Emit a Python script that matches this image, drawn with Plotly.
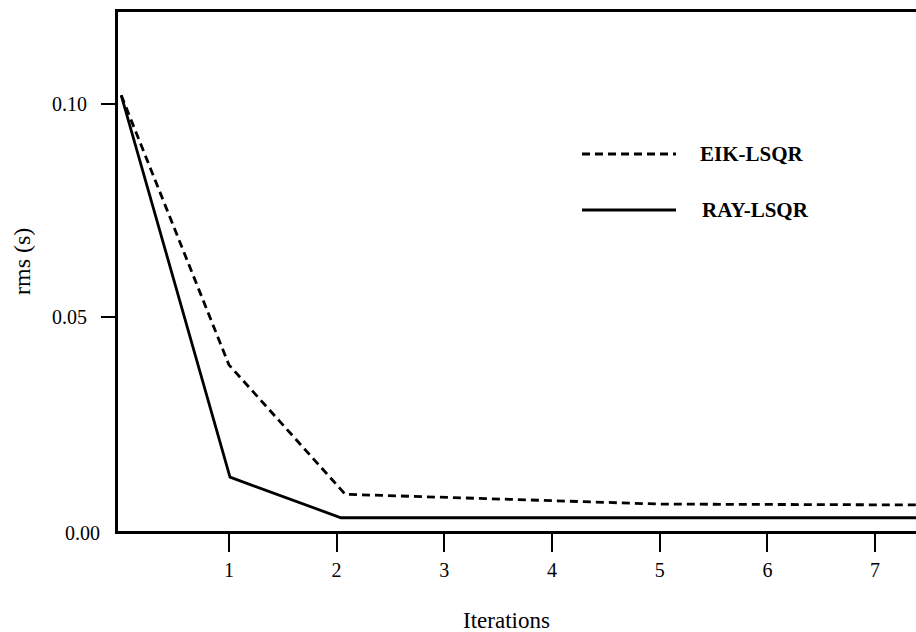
import plotly.graph_objects as go

# Data
iter_eik = [0, 1, 2.08, 3, 4, 5, 6, 7, 7.4]
rms_eik = [0.102, 0.0389, 0.0086, 0.0078, 0.0071, 0.0063, 0.0062, 0.0061, 0.0061]

iter_ray = [0, 1.01, 2.04, 3, 4, 5, 6, 7, 7.4]
rms_ray = [0.102, 0.0126, 0.0031, 0.0031, 0.0031, 0.0031, 0.0031, 0.0031, 0.0031]

x_ticks = [1, 2, 3, 4, 5, 6, 7]
y_ticks = [0.05, 0.10]
y_ticktext = ["0.05", "0.10"]

series_names = ["EIK-LSQR", "RAY-LSQR"]

FONT = "Liberation Serif"

fig = go.Figure()
fig.add_trace(go.Scatter(x=iter_eik, y=rms_eik, mode="lines", name=series_names[0],
                         line=dict(color="black", width=2.8, dash="8px,5px"),
                         showlegend=False))
fig.add_trace(go.Scatter(x=iter_ray, y=rms_ray, mode="lines", name=series_names[1],
                         line=dict(color="black", width=2.8),
                         showlegend=False))

L, R, T, B = 118, 0, 12, 101
W, H = 916, 632
pw, ph = W - L - R, H - T - B

def px_x(px):
    return (px - L) / pw

def px_y(py):
    return (H - B - py) / ph

# Manual legend (line samples + labels)
legend_rows = [(154, "8px,5px", series_names[0], 698), (210, "solid", series_names[1], 700)]
shapes = []
annotations = []
for ypix, dash, label, tx in legend_rows:
    shapes.append(dict(type="line", xref="paper", yref="paper",
                       x0=px_x(582), x1=px_x(676), y0=px_y(ypix), y1=px_y(ypix),
                       line=dict(color="black", width=2.8, dash=dash)))
    annotations.append(dict(xref="paper", yref="paper", x=px_x(tx), y=px_y(ypix),
                            xanchor="left", yanchor="middle", showarrow=False,
                            text="<b>%s</b>" % label,
                            font=dict(family=FONT, size=21, color="black")))

# Axis titles and the 0.00 label
annotations.append(dict(xref="paper", yref="paper", x=px_x(22), y=px_y(262),
                        xanchor="center", yanchor="middle", showarrow=False,
                        text="rms (s)", textangle=-90,
                        font=dict(family=FONT, size=24, color="black")))
annotations.append(dict(xref="paper", yref="paper", x=px_x(506), y=px_y(620),
                        xanchor="center", yanchor="middle", showarrow=False,
                        text="Iterations",
                        font=dict(family=FONT, size=23, color="black")))
annotations.append(dict(xref="paper", yref="y", x=px_x(102), y=0,
                        xanchor="right", yanchor="middle", showarrow=False,
                        yshift=-2, text="0.00",
                        font=dict(family=FONT, size=20, color="black")))

fig.update_layout(
    width=W, height=H,
    margin=dict(l=L, r=R, t=T, b=B, pad=0),
    paper_bgcolor="white", plot_bgcolor="white",
    font=dict(family=FONT, size=20, color="black"),
    shapes=shapes, annotations=annotations,
    showlegend=False,
)
fig.update_xaxes(range=[-0.03, 7.38], tickvals=x_ticks, ticks="outside", ticklen=18,
                 tickwidth=2, tickcolor="black", showline=True, linecolor="black",
                 linewidth=3, mirror=True, showgrid=False, zeroline=False,
                 ticklabelstandoff=1, tickfont=dict(family=FONT, size=20, color="black"))
fig.update_yaxes(range=[0, 0.1215], tickvals=y_ticks, ticktext=y_ticktext,
                 ticks="outside", ticklen=14, tickwidth=2, tickcolor="black",
                 showline=True, linecolor="black", linewidth=3, mirror=False,
                 showgrid=False, zeroline=False, ticklabelstandoff=10,
                 tickfont=dict(family=FONT, size=20, color="black"))

fig.write_html("out.html")
